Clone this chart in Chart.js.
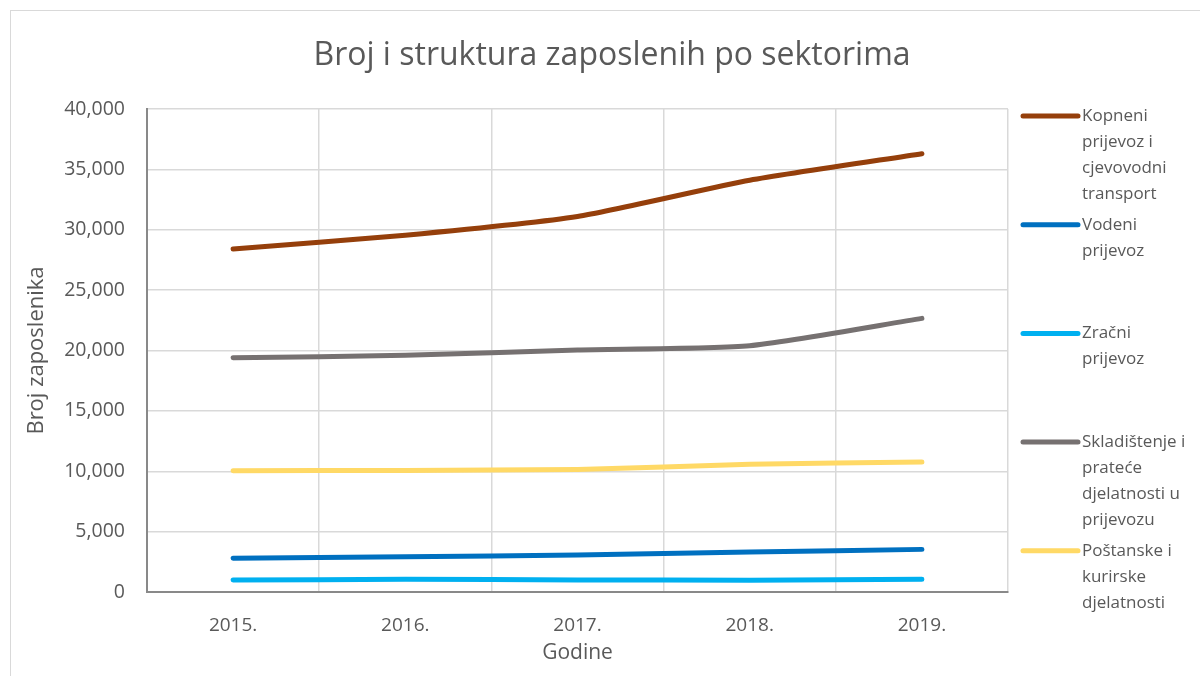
<!DOCTYPE html>
<html>
<head>
<meta charset="utf-8">
<script src="https://cdn.jsdelivr.net/npm/chart.js@4.4.1/dist/chart.umd.min.js"></script>
<style>
  html, body { margin: 0; padding: 0; background: #fff; overflow: hidden; }
  #wrap { position: relative; width: 1200px; height: 676px; }
  #frame { position: absolute; left: 10px; top: 10px; width: 1200px; height: 700px; border: 1px solid #d9d9d9; box-sizing: border-box; }
  canvas { position: absolute; left: 0; top: 0; }
</style>
</head>
<body>
<div id="wrap">
  <div id="frame"></div>
  <canvas id="chart" width="1200" height="676"></canvas>
</div>
<script>
// godine i broj zaposlenih po sektorima (očitano s grafa)
const years = ['2015.', '2016.', '2017.', '2018.', '2019.'];
const kopneni = [28400, 29550, 31100, 34100, 36300];
const vodeni = [2790, 2920, 3060, 3310, 3530];
const zracni = [990, 1050, 1000, 980, 1050];
const skladistenje = [19400, 19600, 20050, 20400, 22660];
const postanske = [10040, 10070, 10150, 10570, 10760];

const chartTitle = 'Broj i struktura zaposlenih po sektorima';
const seriesNames = [
    'Kopneni prijevoz i cjevovodni transport',
    'Vodeni prijevoz',
    'Zračni prijevoz',
    'Skladištenje i prateće djelatnosti u prijevozu',
    'Poštanske i kurirske djelatnosti'
];
// prelomljeni redovi legende kao u originalu
const legendLines = [
    ['Kopneni', 'prijevoz i', 'cjevovodni', 'transport'],
    ['Vodeni', 'prijevoz'],
    ['Zračni', 'prijevoz'],
    ['Skladištenje i', 'prateće', 'djelatnosti u', 'prijevozu'],
    ['Poštanske i', 'kurirske', 'djelatnosti']
];
const seriesColors = ['#953F0B', '#0070C0', '#00B0F0', '#767171', '#FFD966'];

const FONT = '"Open Sans", Lato, sans-serif';
const TXT = '#595959';

function makeDataset(i, values) {
    return {
        label: seriesNames[i],
        data: values,
        borderColor: seriesColors[i],
        backgroundColor: seriesColors[i],
        borderWidth: 5,
        borderCapStyle: 'round',
        borderJoinStyle: 'round',
        pointRadius: 0,
        tension: 0.2,
        fill: false,
    };
}

// naslov centriran na cijeloj širini okvira
const topTitle = {
    id: 'topTitle',
    afterDraw(chart) {
        const ctx = chart.ctx;
        ctx.save();
        ctx.font = '32px ' + FONT;
        ctx.fillStyle = TXT;
        ctx.textAlign = 'center';
        ctx.textBaseline = 'middle';
        ctx.fillText(chartTitle, 612, 56);
        ctx.restore();
    }
};

// legenda desno, svaki unos u svom "slotu" kao u Excelu
const sideLegend = {
    id: 'sideLegend',
    afterDraw(chart) {
        const ctx = chart.ctx;
        const x0 = 1023, x1 = 1078, tx = 1082;
        const startY = 116, slot = 108.7, lineH = 26;
        ctx.save();
        ctx.font = '17px ' + FONT;
        ctx.textBaseline = 'middle';
        ctx.textAlign = 'left';
        chart.data.datasets.forEach((ds, i) => {
            const y = startY + i * slot;
            ctx.strokeStyle = ds.borderColor;
            ctx.lineWidth = 5;
            ctx.lineCap = 'round';
            ctx.beginPath();
            ctx.moveTo(x0, y);
            ctx.lineTo(x1, y);
            ctx.stroke();
            ctx.fillStyle = TXT;
            legendLines[i].forEach((t, j) => ctx.fillText(t, tx, y + j * lineH));
        });
        ctx.restore();
    }
};

new Chart(document.getElementById('chart').getContext('2d'), {
    type: 'line',
    data: {
        labels: years,
        datasets: [
            makeDataset(0, kopneni),
            makeDataset(1, vodeni),
            makeDataset(2, zracni),
            makeDataset(3, skladistenje),
            makeDataset(4, postanske),
        ]
    },
    options: {
        responsive: false,
        animation: false,
        layout: { padding: { left: 20, right: 192, top: 109, bottom: 6 } },
        scales: {
            x: {
                offset: true,
                grid: { offset: true, color: '#d9d9d9', lineWidth: 1.5, drawTicks: false },
                border: { color: '#898989', width: 2 },
                ticks: { color: TXT, font: { family: FONT, size: 19 }, padding: 22 },
                title: { display: true, text: 'Godine', color: TXT, font: { family: FONT, size: 21 }, padding: { top: 10 } },
                afterFit(scale) { scale.height = 78; }
            },
            y: {
                min: 0,
                max: 40000,
                ticks: {
                    stepSize: 5000,
                    color: TXT,
                    font: { family: FONT, size: 19.5 },
                    padding: 22,
                    callback: v => v.toLocaleString('en-US')
                },
                grid: { color: '#d9d9d9', lineWidth: 1.5, drawTicks: false },
                border: { color: '#898989', width: 2 },
                title: { display: true, text: 'Broj zaposlenika', color: TXT, font: { family: FONT, size: 22 }, padding: { bottom: 4 } },
                afterFit(scale) { scale.width = 127; }
            }
        },
        plugins: {
            legend: { display: false },
            tooltip: { enabled: false },
            title: { display: false }
        }
    },
    plugins: [sideLegend, topTitle]
});
</script>
</body>
</html>
